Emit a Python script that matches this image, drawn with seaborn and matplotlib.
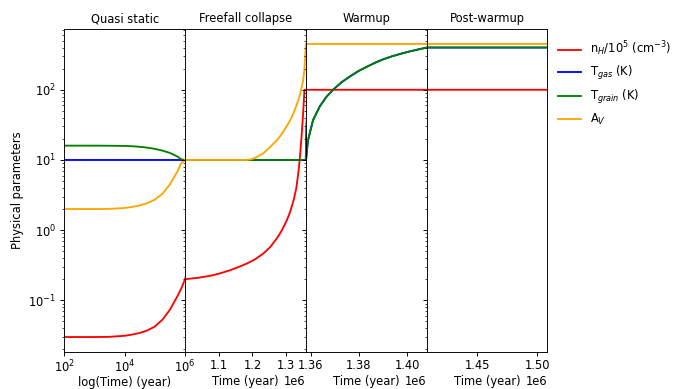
import matplotlib
matplotlib.use("Agg")
import matplotlib.pyplot as plt
import matplotlib.ticker as mticker
import pandas as pd
import seaborn as sns

# ---------------- data ----------------
# Quasi static phase
qs_time = [1e2, 3.16e2, 1e3, 3.16e3, 1e4, 1.78e4, 3.16e4, 5.62e4, 1e5,
           1.78e5, 3.16e5, 5.62e5, 7.5e5, 1e6]
qs_nh = [0.0300, 0.0300, 0.0300, 0.0302, 0.0313, 0.0325, 0.0343, 0.0372,
         0.0424, 0.0530, 0.0735, 0.115, 0.147, 0.200]
qs_tgas = [10, 10, 10, 10, 10, 10, 10, 10, 10, 10, 10, 10, 10, 10]
qs_tgrain = [16.0, 16.0, 16.0, 15.95, 15.85, 15.7, 15.4, 15.0, 14.4, 13.6,
             12.6, 11.2, 10.2, 10.0]
qs_av = [2.0, 2.0, 2.0, 2.01, 2.07, 2.14, 2.25, 2.42, 2.72, 3.3, 4.5, 6.9,
         9.0, 10.0]

# Freefall collapse phase
ff_time = [1.020e6, 1.043e6, 1.063e6, 1.083e6, 1.108e6, 1.133e6, 1.158e6,
           1.183e6, 1.195e6, 1.208e6, 1.232e6, 1.252e6, 1.272e6, 1.287e6,
           1.302e6, 1.312e6, 1.322e6, 1.330e6, 1.337e6, 1.341e6, 1.345e6,
           1.350e6, 1.354e6, 1.3581e6]
ff_nh = [0.205, 0.211, 0.219, 0.228, 0.246, 0.268, 0.298, 0.334, 0.357,
         0.385, 0.464, 0.57, 0.76, 0.99, 1.39, 1.85, 2.68, 4.0, 7.2, 11.5,
         20, 45, 100, 100]
ff_tgas = [10, 10, 10, 10, 10, 10, 10, 10, 10, 10, 10, 10, 10, 10, 10, 10,
           10, 10, 10, 10, 10, 10, 10, 10]
ff_tgrain = [10, 10, 10, 10, 10, 10, 10, 10, 10, 10, 10, 10, 10, 10, 10, 10,
             10, 10, 10, 10, 10, 10, 10, 10]
ff_av = [10.0, 10.0, 10.0, 10.0, 10.0, 10.0, 10.0, 10.0, 10.2, 10.7, 12.4,
         15.3, 19.0, 23.5, 30.5, 37, 47, 59, 74, 86, 105, 135, 195, 450]

# Warmup phase
wu_time = [1.3589e6, 1.3610e6, 1.3638e6, 1.3665e6, 1.3693e6, 1.3728e6,
           1.3763e6, 1.3798e6, 1.3833e6, 1.3868e6, 1.3902e6, 1.3937e6,
           1.3972e6, 1.4007e6, 1.4042e6, 1.4081e6]
wu_nh = [100, 100, 100, 100, 100, 100, 100, 100, 100, 100, 100, 100, 100,
         100, 100, 100]
wu_tgas = [19, 37, 58, 79, 100, 128, 155, 185, 213, 244, 273, 300, 325, 350,
           373, 400]
wu_tgrain = [19, 37, 58, 79, 100, 128, 155, 185, 213, 244, 273, 300, 325,
             350, 373, 400]
wu_av = [450, 450, 450, 450, 450, 450, 450, 450, 450, 450, 450, 450, 450,
         450, 450, 450]

# Post-warmup phase
pw_time = [1.42e6, 1.45e6, 1.48e6, 1.5083e6]
pw_nh = [100, 100, 100, 100]
pw_tgas = [400, 400, 400, 400]
pw_tgrain = [400, 400, 400, 400]
pw_av = [450, 450, 450, 450]

panel_titles = ["Quasi static", "Freefall collapse", "Warmup", "Post-warmup"]
panel_xlabels = ["log(Time) (year)", "Time (year)", "Time (year)", "Time (year)"]
panel_xlims = [(1e2, 1e6), (1.0e6, 1.358e6), (1.358e6, 1.408e6), (1.408e6, 1.5083e6)]
panel_xticks = [None, [1.1e6, 1.2e6, 1.3e6], [1.36e6, 1.38e6, 1.40e6], [1.45e6, 1.50e6]]

series_cols = ["nh", "tgas", "tgrain", "av"]
series_colors = ["red", "blue", "green", "orange"]
series_labels = [r"n$_H$/10$^5$ (cm$^{-3}$)", r"T$_{gas}$ (K)",
                 r"T$_{grain}$ (K)", r"A$_V$"]

df = pd.DataFrame({
    "time": qs_time + ff_time + wu_time + pw_time,
    "nh": qs_nh + ff_nh + wu_nh + pw_nh,
    "tgas": qs_tgas + ff_tgas + wu_tgas + pw_tgas,
    "tgrain": qs_tgrain + ff_tgrain + wu_tgrain + pw_tgrain,
    "av": qs_av + ff_av + wu_av + pw_av,
})

# ---------------- figure ----------------
DPI = 83
fig, axes = plt.subplots(1, 4, sharey=True, figsize=(673 / DPI, 389 / DPI), dpi=DPI)
fig.subplots_adjust(left=0.0955, right=0.8132, top=0.9247, bottom=0.0959, wspace=0)

for i, ax in enumerate(axes):
    for col, color, lab in zip(series_cols, series_colors, series_labels):
        sns.lineplot(data=df, x="time", y=col, ax=ax, color=color, label=lab,
                     estimator=None, sort=False, linewidth=1.6)
    if i == 0:
        ax.set_xscale("log")
        ax.xaxis.set_minor_locator(mticker.NullLocator())
    ax.set_yscale("log")
    ax.set_xlim(*panel_xlims[i])
    if panel_xticks[i] is not None:
        ax.set_xticks(panel_xticks[i])
    ax.tick_params(axis="x", pad=2.5)
    ax.set_title(panel_titles[i], fontsize=10)
    ax.set_xlabel(panel_xlabels[i], fontsize=10, labelpad=(0.8 if i == 0 else 2.8))
    ax.set_ylabel("")
    if ax.get_legend() is not None:
        ax.get_legend().remove()

axes[0].set_ylabel("Physical parameters", fontsize=10)

handles, labels = axes[0].get_legend_handles_labels()
axes[3].legend(handles, labels, loc="upper left", bbox_to_anchor=(1.0, 1.0),
               frameon=False, fontsize=10)

fig.savefig("out.png", dpi=DPI)
